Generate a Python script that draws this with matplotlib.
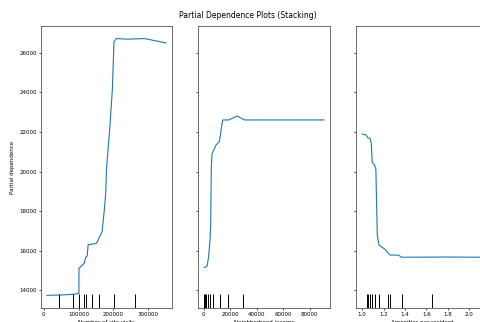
import numpy as np
import matplotlib
matplotlib.use('Agg')
import matplotlib.pyplot as plt

# partial dependence curves
visits_x = [9000, 50000, 84600, 100900, 101000, 116000, 120000, 124600, 127400,
            151400, 167400, 173100, 178000, 180000, 190000, 197000, 201700,
            208500, 240000, 289400, 351400]
visits_y = [13730, 13750, 13780, 13830, 15100, 15350, 15640, 15720, 16290,
            16360, 16950, 17910, 18900, 20080, 22300, 24150, 26570,
            26730, 26700, 26730, 26510]
visits_deciles = [44600, 84600, 100900, 116000, 121700, 138900, 158900, 202900, 262900]

income_x = [300, 2580, 3790, 4850, 5300, 5830, 6360, 9390, 11890, 14390,
            18940, 25300, 30830, 60000, 90900]
income_y = [15130, 15200, 15690, 16530, 17200, 20240, 20890, 21340, 21510, 22610,
            22610, 22810, 22610, 22610, 22610]
income_deciles = [300, 1060, 1820, 3330, 4850, 7350, 12420, 18710, 29550]

amen_x = [1.0, 1.035, 1.053, 1.072, 1.085, 1.094, 1.116, 1.128, 1.141, 1.157,
          1.213, 1.26, 1.337, 1.369, 1.8, 2.12]
amen_y = [21900, 21850, 21710, 21680, 21460, 20450, 20330, 20110, 16790, 16280,
          16060, 15770, 15770, 15660, 15670, 15660]
amen_deciles = [1.041, 1.056, 1.072, 1.091, 1.116, 1.154, 1.238, 1.259, 1.369, 1.650]

labels = ['Number of site visits', 'Neighborhood income', 'Amenities per resident']

fig = plt.figure(figsize=(4.8, 3.22), dpi=100)
bottom, height = 0.0435, 0.876
ax1 = fig.add_axes([0.0854, bottom, 0.273, height])
ax2 = fig.add_axes([0.4125, bottom, 0.275, height], sharey=ax1)
ax3 = fig.add_axes([0.742, bottom, 0.275, height], sharey=ax1)

panels = [(ax1, visits_x, visits_y, visits_deciles),
          (ax2, income_x, income_y, income_deciles),
          (ax3, amen_x, amen_y, amen_deciles)]

for (ax, x, y, dec), lab in zip(panels, labels):
    ax.plot(x, y, color='#1f77b4', lw=0.8)
    ax.vlines(dec, 0, 0.05, transform=ax.get_xaxis_transform(), color='black', lw=0.7)
    rng = max(x) - min(x)
    ax.set_xlim(min(x) - 0.05 * rng, max(x) + 0.05 * rng)
    ax.set_xlabel(lab, fontsize=4, labelpad=2)
    ax.tick_params(labelsize=4, length=1.5, width=0.5, pad=1.5)
    for s in ax.spines.values():
        s.set_linewidth(0.6)
        s.set_color('#555555')

ax1.set_ylim(13090, 27370)
ax1.set_yticks([14000, 16000, 18000, 20000, 22000, 24000, 26000])
ax1.set_xticks([0, 100000, 200000, 300000])
ax2.set_xticks([0, 20000, 40000, 60000, 80000])
ax3.set_xticks([1.0, 1.2, 1.4, 1.6, 1.8, 2.0])
ax1.set_ylabel('Partial dependence', fontsize=4, labelpad=3)
plt.setp(ax2.get_yticklabels(), visible=False)
plt.setp(ax3.get_yticklabels(), visible=False)

fig.text(0.517, 0.952, 'Partial Dependence Plots (Stacking)', fontsize=5.5,
         ha='center', va='center')

fig.savefig('out.png', dpi=100)
